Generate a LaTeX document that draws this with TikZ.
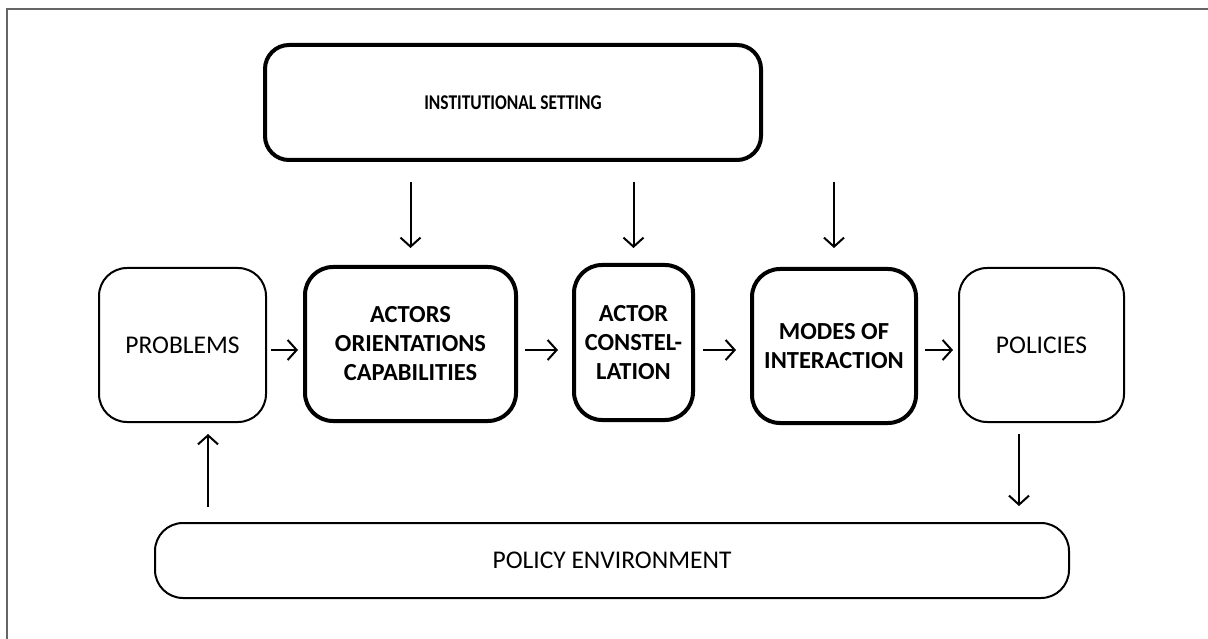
\documentclass[tikz,border=0pt]{standalone}
\usepackage{fontspec}
\usepackage{graphicx}
\setmainfont{Carlito}
\usetikzlibrary{arrows.meta}
\tikzset{
  box/.style={draw=black, rounded corners=28pt, align=center, inner sep=0pt,
              font=\fontsize{25.5}{29}\selectfont},
  thin/.style={box, line width=2pt},
  bold/.style={box, line width=4pt, font=\fontsize{24.5}{29}\selectfont\bfseries},
  arr/.style={line width=2pt, -{Straight Barb[length=9pt,width=20pt,line width=2pt]}},
}
\begin{document}
\begin{tikzpicture}[x=1pt,y=-1pt]
\useasboundingbox (0,0) rectangle (1208,639);
\draw[line width=2pt, gray!80!black] (7,639) -- (7,9) -- (1208,9);

\node[bold, rounded corners=24pt, minimum width=496pt, minimum height=115pt,
      font=\fontsize{21}{25}\selectfont\bfseries] (inst) at (513,102.5) {\scalebox{0.83}[1]{INSTITUTIONAL SETTING}};
\node[thin, minimum width=167pt, minimum height=154pt] (prob) at (182.5,345) {PROBLEMS};
\node[bold, minimum width=211pt, minimum height=154pt] (act) at (410.5,344) {ACTORS\\ORIENTATIONS\\CAPABILITIES};
\node[bold, minimum width=119pt, minimum height=155pt] (con) at (633.5,342.5) {ACTOR\\CONSTEL-\\LATION};
\node[bold, minimum width=164pt, minimum height=154pt] (mod) at (834,346) {MODES OF\\INTERACTION};
\node[thin, minimum width=165pt, minimum height=154pt] (pol) at (1041.5,345) {POLICIES};
\node[thin, minimum width=914pt, minimum height=75pt] (env) at (612,560.5) {POLICY ENVIRONMENT};

\draw[arr] (prob.east |- 0,350) ++(4,0) -- ([xshift=-5pt]act.west |- 0,350);
\draw[arr] (act.east |- 0,350) ++(7,0) -- ([xshift=-14pt]con.west |- 0,350);
\draw[arr] (con.east |- 0,350) ++(8,0) -- ([xshift=-14pt]mod.west |- 0,350);
\draw[arr] (mod.east |- 0,350) ++(7,0) -- ([xshift=-5pt]pol.west |- 0,350);

\draw[arr] (inst.south -| act.north) ++(0,20) -- ([yshift=17pt]act.north);
\draw[arr] (inst.south -| con.north) ++(0,20) -- ([yshift=15pt]con.north);
\draw[arr] (inst.south -| mod.north) ++(0,20) -- ([yshift=19pt]mod.north);

\draw[arr] (env.north -| 208,0) ++(0,-15) -- ([yshift=-11pt]prob.south -| 208,0);
\draw[arr] (pol.south -| 1019,0) ++(0,11) -- ([yshift=16pt]env.north -| 1019,0);
\end{tikzpicture}
\end{document}
